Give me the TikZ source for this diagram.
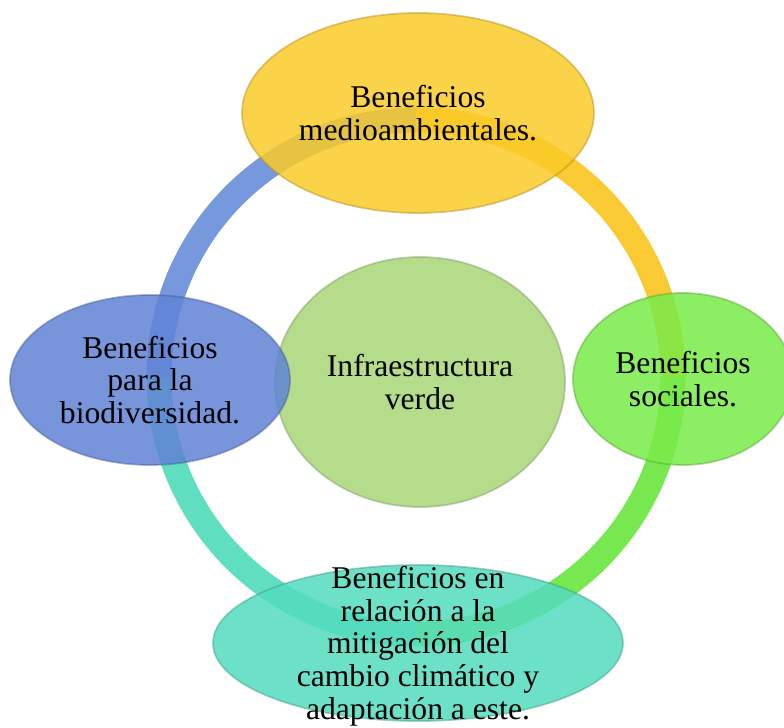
\documentclass[tikz,border=0pt]{standalone}
\usepackage{fontspec}
\setmainfont{Liberation Serif}
\usetikzlibrary{shapes.geometric}

\definecolor{ringblue}{RGB}{118,152,220}
\definecolor{ringyellow}{RGB}{250,202,52}
\definecolor{ringgreen}{RGB}{120,232,80}
\definecolor{ringteal}{RGB}{96,222,192}
\definecolor{topyellow}{RGB}{250,203,40}
\definecolor{leftblue}{RGB}{96,131,214}
\definecolor{rightgreen}{RGB}{120,235,72}
\definecolor{bottomteal}{RGB}{84,220,190}
\definecolor{coregreen}{RGB}{180,220,138}

\begin{document}
\begin{tikzpicture}[
    ring/.style = {line width = 0.5cm},
    bubble/.style = {ellipse, inner sep = 0pt, fill opacity = 0.85, draw opacity = 0.45, line width = 1pt},
    txt/.style = {align = center, inner sep = 0pt, font = \fontsize{18}{18.6}\selectfont},
]
\useasboundingbox (0,0) rectangle (15.68,14.56);
\coordinate (ctr) at (8.32,7.02);

% ring, one colour per quarter
\draw[ring, ringblue] (ctr) ++(180:5.14) arc (180:90:5.14);
\draw[ring, ringyellow] (ctr) ++(90:5.14) arc (90:0:5.14);
\draw[ring, ringgreen] (ctr) ++(0:5.14) arc (360:270:5.14);
\draw[ring, ringteal] (ctr) ++(270:5.14) arc (270:180:5.14);

% centre
\node[bubble, fill opacity = 1, fill = coregreen, draw = coregreen!70!black, minimum width = 5.8cm, minimum height = 5cm] (core) at (8.40,6.92) {};
\node[txt] (coreT) at (core) {Infraestructura\\verde};

% the four benefits
\node[bubble, fill = topyellow, draw = topyellow!70!black, minimum width = 7.04cm, minimum height = 4cm] (env) at (8.36,12.30) {};
\node[txt] (envT) at (env) {Beneficios\\medioambientales.};

\node[bubble, fill = leftblue, draw = leftblue!70!black, minimum width = 5.6cm, minimum height = 3.4cm] (bio) at (3.00,6.96) {};
\node[txt] (bioT) at (bio) {Beneficios\\para la\\biodiversidad.};

\node[bubble, fill = rightgreen, draw = rightgreen!70!black, minimum width = 4.4cm, minimum height = 3.44cm] (soc) at (13.66,6.98) {};
\node[txt] (socT) at (soc) {Beneficios\\sociales.};

\node[bubble, fill = bottomteal, draw = bottomteal!70!black, minimum width = 8.2cm, minimum height = 3.12cm] (clim) at (8.36,1.70) {};
\node[txt] (climT) at ([yshift=-0.06cm]clim) {Beneficios en\\relación a la\\mitigación del\\cambio climático y\\adaptación a este.};

\end{tikzpicture}
\end{document}
